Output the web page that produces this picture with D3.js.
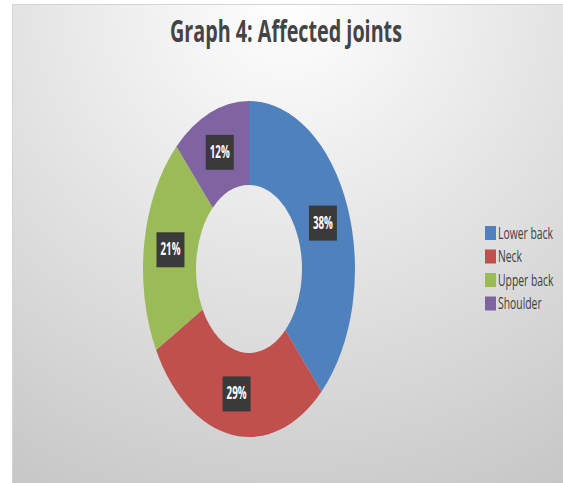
<!DOCTYPE html>
<html>
<head>
<meta charset="utf-8">
<script src="https://cdn.jsdelivr.net/npm/d3@7"></script>
<style>
  body { margin: 0; background: #fff; }
  svg { display: block; }
</style>
</head>
<body>
<svg width="563" height="483"></svg>
<script>
var title = "Graph 4: Affected joints";
var categories = ["Lower back", "Neck", "Upper back", "Shoulder"];
var values = [38, 29, 21, 12];
var colors = ["#4f81bd", "#c0504d", "#9bbb59", "#8064a2"];

var W = 563, H = 483;
var cx = 249, cy = 269;
var outerR = 106, innerR = 53;
var stretch = 168 / 106;   // picture is squashed sideways, so the ring is an ellipse

var svg = d3.select("svg");

// background
var defs = svg.append("defs");
var grad = defs.append("radialGradient")
    .attr("id", "bg")
    .attr("gradientUnits", "userSpaceOnUse")
    .attr("cx", 287).attr("cy", 0).attr("r", 560);
grad.append("stop").attr("offset", "0%").attr("stop-color", "#ffffff");
grad.append("stop").attr("offset", "100%").attr("stop-color", "#c6c6c6");

svg.append("rect")
    .attr("x", 12.5).attr("y", 4.5)
    .attr("width", W - 12).attr("height", H - 4)
    .attr("fill", "url(#bg)")
    .attr("stroke", "#d4d4d4");

// title
svg.append("text")
    .attr("x", 286).attr("y", 42)
    .attr("text-anchor", "middle")
    .attr("font-family", "Open Sans")
    .attr("font-weight", "bold")
    .attr("font-size", 31)
    .attr("fill", "#444")
    .attr("textLength", 232)
    .attr("lengthAdjust", "spacingAndGlyphs")
    .text(title);

// donut
var pie = d3.pie().sort(null).value(function(d) { return d; });
var arc = d3.arc().innerRadius(innerR).outerRadius(outerR);
var arcs = pie(values);

var ring = svg.append("g")
    .attr("transform", "translate(" + cx + "," + cy + ") scale(1," + stretch + ")");

ring.selectAll("path")
    .data(arcs)
  .enter().append("path")
    .attr("d", arc)
    .attr("fill", function(d, i) { return colors[i]; });

// data labels
var labels = svg.selectAll(".lbl")
    .data(arcs)
  .enter().append("g")
    .attr("class", "lbl")
    .attr("transform", function(d) {
      var c = arc.centroid(d);
      return "translate(" + (cx + c[0]) + "," + (cy + c[1] * stretch) + ")";
    });

labels.append("rect")
    .attr("x", -14).attr("y", -17)
    .attr("width", 28).attr("height", 35)
    .attr("fill", "#3a3a3a");

labels.append("text")
    .attr("y", 6)
    .attr("text-anchor", "middle")
    .attr("font-family", "Open Sans")
    .attr("font-weight", "bold")
    .attr("font-size", 17)
    .attr("fill", "#fff")
    .attr("textLength", 20)
    .attr("lengthAdjust", "spacingAndGlyphs")
    .text(function(d) { return d.value + "%"; });

// legend
var legend = svg.selectAll(".leg")
    .data(categories)
  .enter().append("g")
    .attr("class", "leg")
    .attr("transform", function(d, i) { return "translate(485," + (226 + i * 23.5) + ")"; });

legend.append("rect")
    .attr("width", 11).attr("height", 14)
    .attr("fill", function(d, i) { return colors[i]; });

var legText = legend.append("text")
    .attr("font-family", "Open Sans")
    .attr("font-size", 15.5)
    .attr("fill", "#404040")
    .text(function(d) { return d; });

// squeeze the legend text the same way as the rest of the picture
var sx = 55 / legText.node().getComputedTextLength();
legText.attr("transform", "translate(13,12.5) scale(" + sx + ",1)");
</script>
</body>
</html>
